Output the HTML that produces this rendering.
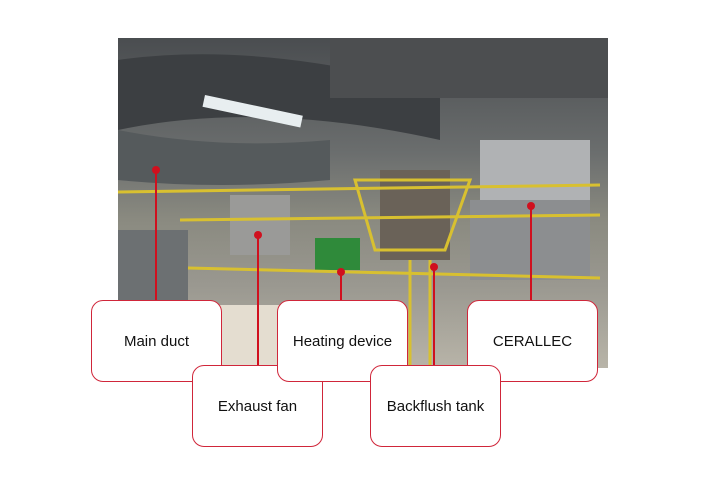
<!DOCTYPE html>
<html><head><style>
html,body{margin:0;padding:0;background:#fff;width:720px;height:480px;overflow:hidden}
.b{position:absolute;width:129px;height:80px;border:1px solid #d0263a;border-radius:12px;background:#fff;font:15px "Liberation Sans",sans-serif;color:#111;display:flex;align-items:center;justify-content:center}
</style></head><body>
<svg width="720" height="480" style="position:absolute;left:0;top:0">
<defs>
<linearGradient id="g" x1="0" y1="0" x2="0" y2="1">
<stop offset="0" stop-color="#4a4d50"/><stop offset="0.35" stop-color="#6b6e6e"/><stop offset="0.55" stop-color="#8a8a80"/><stop offset="0.75" stop-color="#9a9890"/><stop offset="1" stop-color="#b8b4a8"/></linearGradient>
</defs>
<rect x="118" y="38" width="490" height="330" fill="url(#g)"/>
<path d="M118 60 Q260 40 440 90 L440 140 Q260 100 118 130Z" fill="#3c3f42"/>
<path d="M118 130 Q220 150 330 140 L330 180 Q220 190 118 180Z" fill="#555a5c"/>
<rect x="205" y="95" width="100" height="12" fill="#e8eef0" transform="rotate(12 205 95)"/>
<rect x="330" y="38" width="278" height="60" fill="#4c4e50"/>
<rect x="480" y="140" width="110" height="60" fill="#b0b2b4"/>
<rect x="470" y="200" width="120" height="80" fill="#8c8e90"/>
<rect x="380" y="170" width="70" height="90" fill="#6a6258"/>
<rect x="230" y="195" width="60" height="60" fill="#9a9a98"/>
<rect x="315" y="238" width="45" height="32" fill="#2f8a3a"/>
<rect x="118" y="230" width="70" height="70" fill="#6c7072"/>
<rect x="188" y="305" width="100" height="63" fill="#e4ddd0"/>
<g stroke="#d8c030" stroke-width="3" fill="none">
<path d="M118 192 L600 185"/><path d="M180 220 L600 215"/><path d="M188 268 L600 278"/>
<path d="M355 180 L470 180 L445 250 L375 250Z"/>
<path d="M410 260 L410 368 M430 260 L430 368"/>
</g>
<g stroke="#d0101e" stroke-width="2">
<line x1="156" y1="170" x2="156" y2="300"/>
<line x1="258" y1="235" x2="258" y2="365"/>
<line x1="341" y1="272" x2="341" y2="300"/>
<line x1="434" y1="267" x2="434" y2="365"/>
<line x1="531" y1="206" x2="531" y2="300"/>
</g>
<g fill="#d0101e">
<circle cx="156" cy="170" r="4"/><circle cx="258" cy="235" r="4"/><circle cx="341" cy="272" r="4"/><circle cx="434" cy="267" r="4"/><circle cx="531" cy="206" r="4"/>
</g>
</svg>
<div class="b" style="left:91px;top:300px">Main duct</div>
<div class="b" style="left:467px;top:300px">CERALLEC</div>
<div class="b" style="left:192px;top:365px">Exhaust fan</div>
<div class="b" style="left:277px;top:300px">Heating device</div>
<div class="b" style="left:370px;top:365px">Backflush tank</div>
</body></html>
